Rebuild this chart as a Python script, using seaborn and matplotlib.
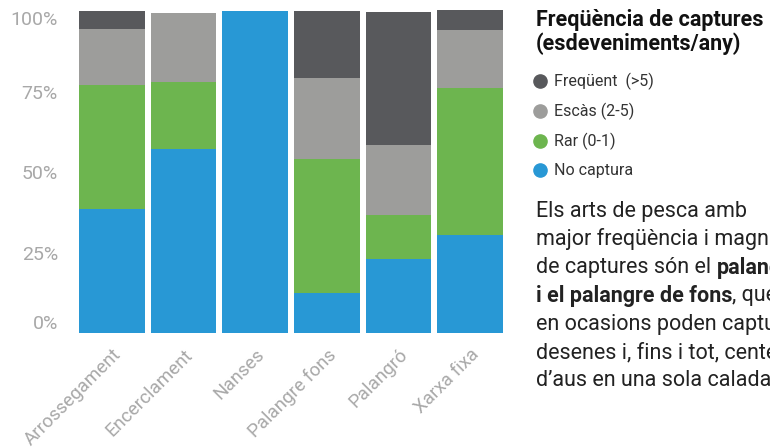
import numpy as np
import pandas as pd
import matplotlib
matplotlib.use('Agg')
import matplotlib.pyplot as plt
from matplotlib.lines import Line2D
import seaborn as sns

## Data (% of cases per fishing gear)
gears = ['Arrossegament', 'Encerclament', 'Nanses', 'Palangre fons', 'Palangró', 'Xarxa fixa']
no_captura = [38.6, 57.2, 100.0, 12.5, 23.1, 30.5]
rar = [38.5, 20.9, 0.0, 41.7, 13.6, 45.6]
escas = [17.4, 21.3, 0.0, 25.0, 21.7, 18.0]
frequent = [5.5, 0.0, 0.0, 20.8, 41.3, 6.2]

series = ['No captura', 'Rar (0-1)', 'Escàs (2-5)', 'Freqüent  (>5)']
colors = ['#2898d5', '#6db54f', '#9d9d9b', '#58595c']
yticks = [0, 25, 50, 75, 100]

legend_title = 'Freqüència de captures\n(esdeveniments/any)'
# (text, bold) pieces per line
note_lines = [
    [('Els arts de pesca amb', False)],
    [('major freqüència i magnitud', False)],
    [('de captures són el', False), ('palangró', True)],
    [('i el palangre de fons', True), (', que', False)],
    [('en ocasions poden capturar', False)],
    [('desenes i, fins i tot, centenars', False)],
    [('d\u2019aus en una sola calada.', False)],
]

df = pd.DataFrame({'gear': gears, series[0]: no_captura, series[1]: rar,
                   series[2]: escas, series[3]: frequent})
cum = df[series].cumsum(axis=1)

sns.set_style('white')
plt.rcParams['font.family'] = ['Roboto', 'DejaVu Sans']

W, H = 770, 447
fig = plt.figure(figsize=(W / 100, H / 100), dpi=100)
ax = fig.add_axes([76 / W, 1 - 333.3 / H, 430 / W, 332 / H])

# stacked bars: draw cumulative totals from the top layer down
for s, c in reversed(list(zip(series, colors))):
    sns.barplot(x=df['gear'], y=cum[s], color=c, saturation=1, width=0.92,
                linewidth=0, ax=ax)

ax.set_ylim(0, 103)
ax.set_xlim(-0.5, 5.5)
sns.despine(ax=ax, left=True, bottom=True)
ax.set_xlabel('')
ax.set_ylabel('')

ax.set_yticks(yticks)
ax.set_yticklabels([f'{v}%' for v in yticks], color='#a8a8a8', fontsize=14)
ax.tick_params(axis='y', length=0, pad=13)
for lab, v in zip(ax.get_yticklabels(), yticks):
    if v == 0:
        lab.set_va('bottom')
    elif v == 100:
        lab.set_va('top')

ax.set_xticks(range(len(gears)))
ax.set_xticklabels(gears, rotation=45, ha='right', va='top',
                   rotation_mode='anchor', color='#a8a8a8', fontsize=13.5)
ax.tick_params(axis='x', length=0, pad=9)

# legend title as its own text, entries below it
fig.text(536 / W, 1 - 9 / H, legend_title, fontsize=15.5, fontweight='bold',
         color='#111111', va='top', ha='left', linespacing=1.1)
handles = [Line2D([], [], marker='o', linestyle='', markersize=9.5,
                  markerfacecolor=c, markeredgecolor=c) for c in reversed(colors)]
fig.legend(handles, list(reversed(series)), loc='upper left',
           bbox_to_anchor=(533 / W, 1 - 73 / H), frameon=False,
           fontsize=11.5, labelcolor='#333333', labelspacing=0.8,
           handlelength=0.85, handletextpad=0.45, borderpad=0,
           borderaxespad=0)

# side note with bold fragments
renderer = fig.canvas.get_renderer()
note_kw = dict(fontsize=15.5, color='#222222', va='center')
t1 = fig.text(0, 0, 'xx', **note_kw)
t2 = fig.text(0, 0, 'x x', **note_kw)
space = (t2.get_window_extent(renderer).width - t1.get_window_extent(renderer).width) / W
t1.remove()
t2.remove()

y0, dy = 211, 28.3
for i, pieces in enumerate(note_lines):
    x = 536 / W
    y = 1 - (y0 + i * dy) / H
    for j, (txt, bold) in enumerate(pieces):
        if j > 0 and not txt.startswith(','):
            x += space
        t = fig.text(x, y, txt, fontweight='bold' if bold else 'normal', **note_kw)
        x = t.get_window_extent(renderer).x1 / W

fig.savefig('out.png', dpi=100)
